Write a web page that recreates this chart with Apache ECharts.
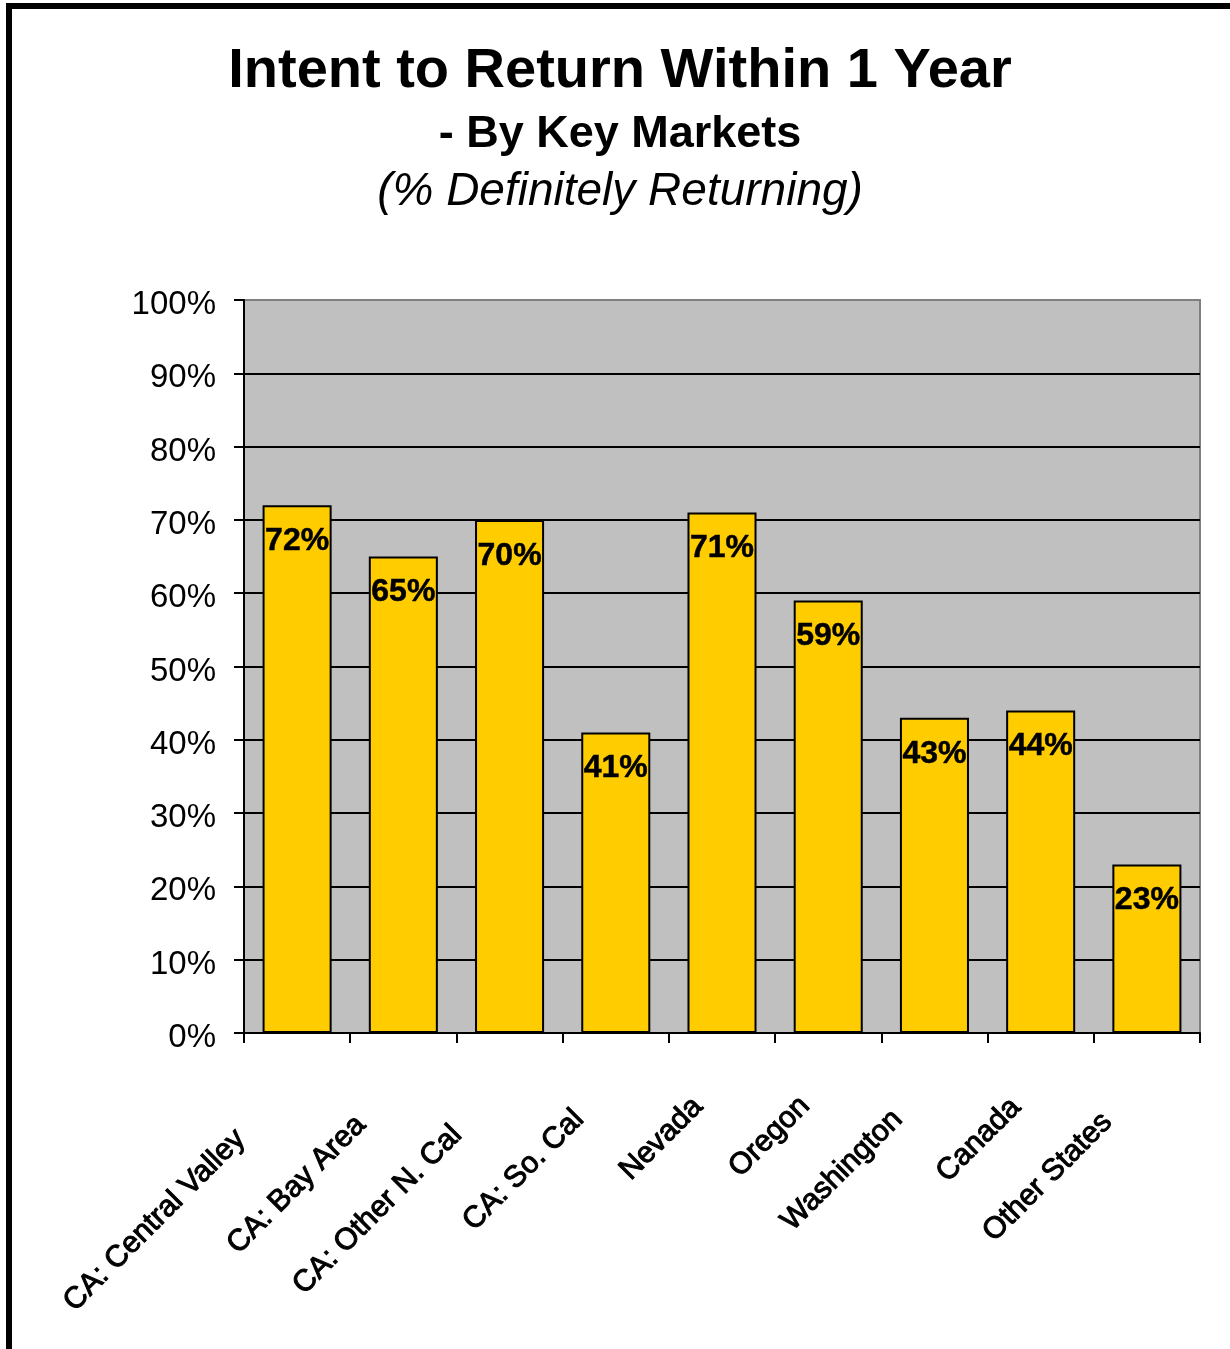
<!DOCTYPE html>
<html>
<head>
<meta charset="utf-8">
<script src="https://cdn.jsdelivr.net/npm/echarts@6/dist/echarts.min.js"></script>
<style>
  html, body { margin: 0; padding: 0; background: #fff; }
  #chart { width: 1230px; height: 1349px; }
</style>
</head>
<body>
<div id="chart"></div>
<script>
// Key markets and the share of visitors who will definitely return within a year (%)
const markets = [
  'CA: Central Valley', 'CA: Bay Area', 'CA: Other N. Cal', 'CA: So. Cal',
  'Nevada', 'Oregon', 'Washington', 'Canada', 'Other States'
];
const definitelyReturning = [72, 65, 70, 41, 71, 59, 43, 44, 23];

// Value axis range (percent)
const yMin = 0;
const yMax = 100;
const yStep = 10;

const FONT = '"Liberation Sans", Arial, Helvetica, sans-serif';
const CAT_FONT_SIZE = 30;

// Slanted labels are pulled back along their baseline in proportion to their length
const measureCtx = document.createElement('canvas').getContext('2d');
measureCtx.font = CAT_FONT_SIZE + 'px ' + FONT;
const categoryData = markets.map(function (name) {
  const w = measureCtx.measureText(name).width;
  return { value: name, textStyle: { padding: [0, Math.round(w * 0.33), 0, 0] } };
});

const chart = echarts.init(document.getElementById('chart'), null, { renderer: 'canvas' });

chart.setOption({
  animation: false,
  backgroundColor: '#ffffff',
  textStyle: { fontFamily: FONT },
  graphic: [
    {
      type: 'rect',
      shape: { x: 9, y: 6, width: 1400, height: 1500 },
      style: { fill: 'none', stroke: '#000000', lineWidth: 6 },
      z: 100
    }
  ],
  title: [
    {
      text: 'Intent to Return Within 1 Year',
      left: 620, top: 44, textAlign: 'center', padding: 0,
      textStyle: { fontFamily: FONT, fontSize: 56, fontWeight: 'bold', color: '#000' }
    },
    {
      text: '- By Key Markets',
      left: 620, top: 112, textAlign: 'center', padding: 0,
      textStyle: { fontFamily: FONT, fontSize: 45, fontWeight: 'bold', color: '#000' }
    },
    {
      text: '(% Definitely Returning)',
      left: 620, top: 169, textAlign: 'center', padding: 0,
      textStyle: { fontFamily: FONT, fontSize: 46, fontStyle: 'italic', fontWeight: 'normal', color: '#000' }
    }
  ],
  grid: {
    left: 244, right: 30, top: 300, bottom: 316,
    show: true,
    backgroundColor: '#C0C0C0',
    borderColor: '#808080',
    borderWidth: 2,
    outerBoundsMode: 'none',
    containLabel: false
  },
  xAxis: {
    type: 'category',
    data: categoryData,
    axisLine: { show: true, lineStyle: { color: '#000', width: 2 } },
    axisTick: { show: true, length: 10, lineStyle: { color: '#000', width: 2 } },
    axisLabel: {
      interval: 0,
      rotate: 45,
      margin: 45,
      color: '#000',
      textBorderColor: '#000',
      textBorderWidth: 1,
      fontFamily: FONT,
      fontSize: CAT_FONT_SIZE
    },
    splitLine: { show: false }
  },
  yAxis: {
    type: 'value',
    min: yMin,
    max: yMax,
    interval: yStep,
    axisLine: { show: true, lineStyle: { color: '#000', width: 2 } },
    axisTick: { show: true, length: 10, lineStyle: { color: '#000', width: 2 } },
    axisLabel: {
      // tick labels sit a little below their gridlines
      formatter: function (v) { return '{p|' + v + '%}'; },
      margin: 28,
      color: '#000',
      fontFamily: FONT,
      fontSize: 33,
      rich: {
        p: { fontFamily: FONT, fontSize: 33, color: '#000', padding: [10, 0, 0, 0] }
      }
    },
    splitLine: {
      show: true,
      showMinLine: false,
      showMaxLine: false,
      lineStyle: { color: '#000', width: 2 }
    }
  },
  series: [
    {
      type: 'bar',
      data: definitelyReturning,
      barCategoryGap: '35%',
      itemStyle: { color: '#FFCC00', borderColor: '#000', borderWidth: 2 },
      label: {
        show: true,
        position: 'insideTop',
        distance: 20,
        formatter: '{c}%',
        color: '#000',
        textBorderColor: '#000',
        textBorderWidth: 0.5,
        fontFamily: FONT,
        fontSize: 32,
        fontWeight: 'bold'
      }
    }
  ]
});
</script>
</body>
</html>
